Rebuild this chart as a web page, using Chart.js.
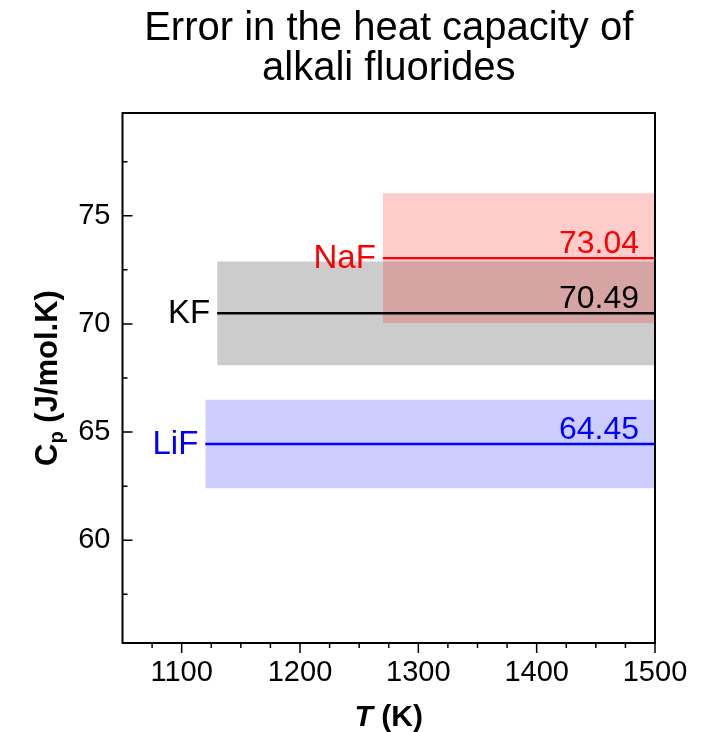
<!DOCTYPE html>
<html><head><meta charset="utf-8">
<script src="https://cdn.jsdelivr.net/npm/chart.js@4"></script>
<style>html,body{margin:0;padding:0;background:#fff}#wrap{width:709px;height:732px;position:relative}</style>
</head><body><div id="wrap"><canvas id="c"></canvas></div>
<script>
const TITLE_LINES = ['Error in the heat capacity of', 'alkali fluorides'];
const SALTS = ['KF', 'NaF', 'LiF'];
const CP_VALUES = [70.49, 73.04, 64.45];
const CP_ERRORS = [2.40, 3.00, 2.05];
const T_START = [1130, 1270, 1120];
const T_END = [1500, 1500, 1500];
const LINE_COLORS = ['#000000', '#FF0000', '#0000FF'];
const FILL_COLORS = ['rgba(0,0,0,0.2)', 'rgba(255,0,0,0.2)', 'rgba(0,0,255,0.2)'];
const X_TICKS = [1100, 1200, 1300, 1400, 1500];
const X_MINOR = [1075, 1125, 1150, 1175, 1225, 1250, 1275, 1325, 1350, 1375, 1425, 1450, 1475];
const Y_TICKS = [60, 65, 70, 75];
const Y_MINOR = [57.5, 62.5, 67.5, 72.5, 77.5];
const X_RANGE = [1050, 1500];
const Y_RANGE = [55.25, 79.75];

const FONT = '"Liberation Sans", Arial, sans-serif';

const datasets = [];
SALTS.forEach((s, i) => {
  datasets.push({
    label: s + ' error',
    data: [{x: T_START[i], y: CP_VALUES[i] + CP_ERRORS[i]}, {x: T_END[i], y: CP_VALUES[i] + CP_ERRORS[i]}],
    fill: {value: CP_VALUES[i] - CP_ERRORS[i]},
    backgroundColor: FILL_COLORS[i],
    borderColor: 'rgba(0,0,0,0)',
    borderWidth: 0,
    pointRadius: 0,
    order: 20 - i
  });
});
SALTS.forEach((s, i) => {
  datasets.push({
    label: s,
    data: [{x: T_START[i], y: CP_VALUES[i]}, {x: T_END[i], y: CP_VALUES[i]}],
    fill: false,
    borderColor: LINE_COLORS[i],
    borderWidth: 2.4,
    pointRadius: 0,
    order: 1
  });
});

const deco = {
  id: 'deco',
  afterDraw(chart) {
    const ctx = chart.ctx;
    const a = chart.chartArea;
    const xs = chart.scales.x, ys = chart.scales.y;
    ctx.save();
    // labels
    SALTS.forEach((s, i) => {
      const y = ys.getPixelForValue(CP_VALUES[i]);
      const x0 = xs.getPixelForValue(T_START[i]);
      const x1 = xs.getPixelForValue(T_END[i]);
      ctx.fillStyle = LINE_COLORS[i];
      ctx.font = '33px ' + FONT;
      ctx.textAlign = 'right';
      ctx.textBaseline = 'middle';
      ctx.fillText(s, x0 - 7, y + 1);
      ctx.font = '32px ' + FONT;
      ctx.textBaseline = 'alphabetic';
      ctx.fillText(CP_VALUES[i].toFixed(2), x1 - 16, y - 5);
    });
    // frame
    ctx.strokeStyle = '#000';
    ctx.lineWidth = 2;
    ctx.strokeRect(a.left, a.top, a.right - a.left, a.bottom - a.top);
    // x ticks (outward)
    ctx.lineWidth = 1.5;
    ctx.beginPath();
    X_TICKS.forEach(v => { const x = xs.getPixelForValue(v); ctx.moveTo(x, a.bottom); ctx.lineTo(x, a.bottom + 10); });
    X_MINOR.forEach(v => { const x = xs.getPixelForValue(v); ctx.moveTo(x, a.bottom); ctx.lineTo(x, a.bottom + 5); });
    // y ticks (inward)
    Y_TICKS.forEach(v => { const y = ys.getPixelForValue(v); ctx.moveTo(a.left, y); ctx.lineTo(a.left + 10, y); });
    Y_MINOR.forEach(v => { const y = ys.getPixelForValue(v); ctx.moveTo(a.left, y); ctx.lineTo(a.left + 5, y); });
    ctx.stroke();
    // title
    ctx.fillStyle = '#000';
    ctx.textAlign = 'center';
    ctx.textBaseline = 'alphabetic';
    ctx.font = '40px ' + FONT;
    const cx = (a.left + a.right) / 2;
    ctx.fillText(TITLE_LINES[0], cx, 40);
    ctx.fillText(TITLE_LINES[1], cx, 80);
    // x title
    const XF = 30;
    ctx.font = 'italic bold ' + XF + 'px ' + FONT;
    const tW = ctx.measureText('T').width;
    ctx.font = 'bold ' + XF + 'px ' + FONT;
    const rW = ctx.measureText(' (K)').width;
    let sx = cx - (tW + rW) / 2;
    ctx.textAlign = 'left';
    ctx.font = 'italic bold ' + XF + 'px ' + FONT;
    ctx.fillText('T', sx, 726);
    ctx.font = 'bold ' + XF + 'px ' + FONT;
    ctx.fillText(' (K)', sx + tW, 726);
    // y title
    const YF = 31, PF = 20;
    const cy = (a.top + a.bottom) / 2;
    ctx.translate(57, cy);
    ctx.rotate(-Math.PI / 2);
    ctx.font = 'bold ' + YF + 'px ' + FONT;
    const cW = ctx.measureText('C').width;
    const rest = ' (J/mol.K)';
    const restW = ctx.measureText(rest).width;
    ctx.font = 'bold ' + PF + 'px ' + FONT;
    const pW = ctx.measureText('p').width;
    let px = -(cW + pW + restW) / 2;
    ctx.font = 'bold ' + YF + 'px ' + FONT;
    ctx.fillText('C', px, 0);
    ctx.font = 'bold ' + PF + 'px ' + FONT;
    ctx.fillText('p', px + cW, 6);
    ctx.font = 'bold ' + YF + 'px ' + FONT;
    ctx.fillText(rest, px + cW + pW, 0);
    ctx.restore();
  }
};

new Chart(document.getElementById('c'), {
  type: 'line',
  data: {datasets},
  options: {
    responsive: true,
    maintainAspectRatio: false,
    animation: false,
    events: [],
    layout: {padding: {left: 0, top: 113, right: 54, bottom: 0}},
    plugins: {legend: {display: false}, title: {display: false}, tooltip: {enabled: false}},
    scales: {
      x: {
        type: 'linear', min: X_RANGE[0], max: X_RANGE[1],
        grid: {display: false, drawTicks: false},
        border: {display: false},
        afterBuildTicks: s => { s.ticks = X_TICKS.map(v => ({value: v})); },
        afterFit: s => { s.height = 89; },
        ticks: {color: '#000', font: {family: FONT, size: 29}, padding: 13, maxRotation: 0, autoSkip: false,
                callback: v => String(v)}
      },
      y: {
        type: 'linear', min: Y_RANGE[0], max: Y_RANGE[1],
        grid: {display: false, drawTicks: false},
        border: {display: false},
        afterBuildTicks: s => { s.ticks = Y_TICKS.map(v => ({value: v})); },
        afterFit: s => { s.width = 122.5; },
        ticks: {color: '#000', font: {family: FONT, size: 29}, padding: 12, autoSkip: false,
                callback: v => String(v)}
      }
    }
  },
  plugins: [deco]
});
</script></body></html>
